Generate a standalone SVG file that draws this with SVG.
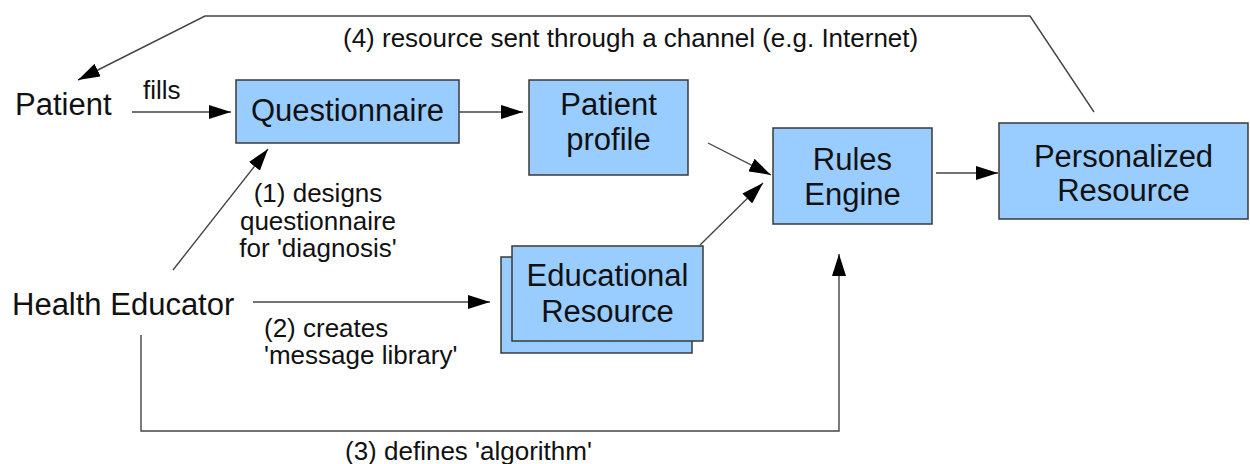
<svg xmlns="http://www.w3.org/2000/svg" width="1250" height="464" viewBox="0 0 1250 464">
<style>
.box{fill:#99ccff;stroke:#3a3a3a;stroke-width:1.5}
.big{font-family:"Liberation Sans",Arial,sans-serif;font-size:31px;fill:#111}
.lbl{font-family:"Liberation Sans",Arial,sans-serif;font-size:26px;fill:#111}
.c{text-anchor:middle}
.con{fill:none;stroke:#444;stroke-width:1.4}
</style>
<defs>
<marker id="ah" markerUnits="userSpaceOnUse" markerWidth="22" markerHeight="14" refX="22" refY="7" orient="auto">
<path d="M0,0 L22,7 L0,14 z" fill="#000"/>
</marker>
</defs>
<rect width="1250" height="464" fill="#fff"/>
<g id="connectors">
<polyline class="con" points="1094,112 1030,16 205,16 78,80" marker-end="url(#ah)"/>
<line class="con" x1="132" y1="112" x2="231" y2="112" marker-end="url(#ah)"/>
<line class="con" x1="459" y1="112" x2="523" y2="112" marker-end="url(#ah)"/>
<line class="con" x1="708" y1="143" x2="771" y2="175" marker-end="url(#ah)"/>
<line class="con" x1="700" y1="245" x2="763" y2="183" marker-end="url(#ah)"/>
<line class="con" x1="936" y1="173" x2="998" y2="173" marker-end="url(#ah)"/>
<line class="con" x1="173" y1="270" x2="268" y2="149" marker-end="url(#ah)"/>
<line class="con" x1="253" y1="302" x2="490" y2="302" marker-end="url(#ah)"/>
<polyline class="con" points="141,335 141,431 839,431 839,254" marker-end="url(#ah)"/>
<text class="lbl" x="343" y="47">(4) resource sent through a channel (e.g. Internet)</text>
<text class="lbl" x="143" y="99">fills</text>
<text class="lbl c" x="318" y="202">(1) designs</text>
<text class="lbl c" x="318" y="230">questionnaire</text>
<text class="lbl c" x="318" y="257">for 'diagnosis'</text>
<text class="lbl" x="264" y="337">(2) creates</text>
<text class="lbl" x="264" y="364">'message library'</text>
<text class="lbl" x="345" y="460">(3) defines 'algorithm'</text>
</g>
<g id="patient">
<text class="big" x="15" y="115">Patient</text>
</g>
<g id="health-educator">
<text class="big" x="12" y="315">Health Educator</text>
</g>
<g id="questionnaire">
<rect class="box" x="236" y="80" width="223" height="63"/>
<text class="big c" x="347.5" y="121">Questionnaire</text>
</g>
<g id="patient-profile">
<rect class="box" x="529" y="80" width="159" height="95"/>
<text class="big c" x="608.5" y="115">Patient</text>
<text class="big c" x="608.5" y="150">profile</text>
</g>
<g id="educational-resource">
<rect class="box" x="501" y="257" width="191" height="96"/>
<rect class="box" x="512" y="246" width="191" height="95"/>
<text class="big c" x="607.5" y="286">Educational</text>
<text class="big c" x="607.5" y="322">Resource</text>
</g>
<g id="rules-engine">
<rect class="box" x="773" y="128" width="159" height="96"/>
<text class="big c" x="852.5" y="170">Rules</text>
<text class="big c" x="852.5" y="205">Engine</text>
</g>
<g id="personalized-resource">
<rect class="box" x="999" y="123" width="249" height="96"/>
<text class="big c" x="1123.5" y="167">Personalized</text>
<text class="big c" x="1123.5" y="201">Resource</text>
</g>
</svg>
